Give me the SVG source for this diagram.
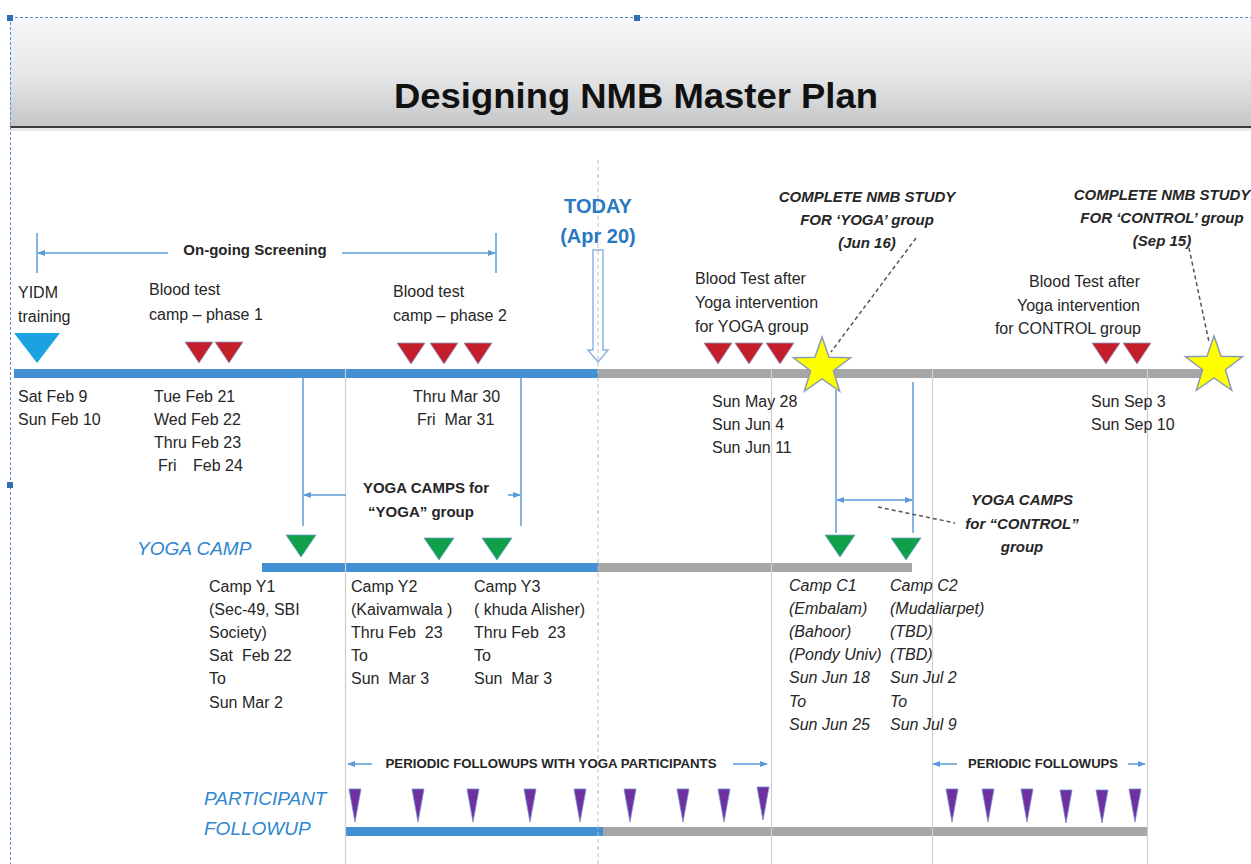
<svg xmlns="http://www.w3.org/2000/svg" width="1251" height="864" viewBox="0 0 1251 864">
<style>
text{font-family:"Liberation Sans",Arial,sans-serif;fill:#262626;white-space:pre}
.t{font-size:16px}
.ti{font-size:16px;font-style:italic}
.b{font-size:15px;font-weight:bold}
.bi{font-size:15px;font-weight:bold;font-style:italic}
.sm{font-size:12px;font-weight:bold}
.lbl{font-size:19px;font-style:italic;fill:#2f86cf}
.today{font-size:20px;font-weight:bold;fill:#2a78c2}
.title{font-size:35px;font-weight:bold;fill:#111}
.conn{stroke:#5b9bd5;stroke-width:1.5;fill:none}
.dash{stroke:#555;stroke-width:1.5;stroke-dasharray:4 3;fill:none}
.vg{stroke:#cfcfcf;stroke-width:1.2}
.red{fill:#c41e2a;stroke:#8a9cc8;stroke-width:0.8}
.grn{fill:#10a04a;stroke:#6f9fcf;stroke-width:0.8}
.pur{fill:#7030a0;stroke:#6f8fcf;stroke-width:0.8}
.star{fill:#ffff00;stroke:#8c9bb5;stroke-width:1.5}
</style>
<defs>
<linearGradient id="hdr" x1="0" y1="0" x2="0" y2="1">
<stop offset="0" stop-color="#f6f7f8"/>
<stop offset="0.5" stop-color="#e7e8e9"/>
<stop offset="1" stop-color="#c5c6c8"/>
</linearGradient>
<marker id="ah" viewBox="0 0 8 8" refX="7" refY="4" markerWidth="8" markerHeight="8" markerUnits="userSpaceOnUse" orient="auto-start-reverse">
<path d="M0,1 L8,4 L0,7 z" fill="#5b9bd5"/>
</marker>
<polygon id="starp" points="0,-30 7.05,-9.71 28.53,-9.27 11.41,3.71 17.63,24.27 0,12 -17.63,24.27 -11.41,3.71 -28.53,-9.27 -7.05,-9.71"/>
<polygon id="redp" points="-14,0 14,0 0,21"/>
<polygon id="grnp" points="-15,0 15,0 0,22"/>
<polygon id="purp" points="-6,0 6,0 0,33"/>
</defs>

<g id="header">
<rect x="10" y="18" width="1241" height="109" fill="url(#hdr)"/>
<rect x="10" y="127" width="1241" height="4" fill="#e0e0e0" opacity="0.7"/>
<line x1="10" y1="127" x2="1251" y2="127" stroke="#3c3c3c" stroke-width="2"/>
<text x="636" y="108" text-anchor="middle" class="title" textLength="484" lengthAdjust="spacingAndGlyphs">Designing NMB Master Plan</text>
</g>

<g id="frame">
<line x1="10.5" y1="17" x2="10.5" y2="864" stroke="#5b8fd0" stroke-width="1" stroke-dasharray="3 2"/>
<line x1="10" y1="17.5" x2="1251" y2="17.5" stroke="#5b8fd0" stroke-width="1" stroke-dasharray="3 2"/>
<rect x="7" y="15" width="6" height="6" fill="#2e6fb5"/>
<rect x="634" y="15" width="6" height="6" fill="#2e6fb5"/>
<rect x="7" y="482" width="6" height="6" fill="#2e6fb5"/>
</g>

<g id="bars">
<rect x="14" y="369" width="584" height="9" fill="#4390d4"/>
<rect x="598" y="369" width="612" height="9" fill="#a6a6a6"/>
<rect x="262" y="563" width="336" height="9" fill="#4390d4"/>
<rect x="598" y="563" width="314" height="9" fill="#a6a6a6"/>
<rect x="345" y="827" width="258" height="9" fill="#4390d4"/>
<rect x="603" y="827" width="544" height="9" fill="#a6a6a6"/>
</g>

<g id="gridlines">
<line class="vg" x1="345.5" y1="369" x2="345.5" y2="864"/>
<line class="vg" x1="771.5" y1="369" x2="771.5" y2="864"/>
<line class="vg" x1="932.5" y1="369" x2="932.5" y2="864"/>
<line class="vg" x1="1147.5" y1="369" x2="1147.5" y2="864"/>
</g>

<g id="today">
<path d="M593,250 L603,250 L603,350 L608,350 L598,362 L588,350 L593,350 Z" fill="#fff" stroke="#8fb4e3" stroke-width="1.5"/>
<line x1="598" y1="160" x2="598" y2="864" stroke="#bdbdbd" stroke-width="1" stroke-dasharray="4 3"/>
<text x="598" y="213" text-anchor="middle" class="today">TODAY</text>
<text x="598" y="243" text-anchor="middle" class="today">(Apr 20)</text>
</g>

<g id="connectors">
<line class="conn" x1="37" y1="233" x2="37" y2="273"/>
<line class="conn" x1="496" y1="233" x2="496" y2="273"/>
<line class="conn" x1="168" y1="253" x2="38" y2="253" marker-end="url(#ah)"/>
<line class="conn" x1="342" y1="253" x2="495" y2="253" marker-end="url(#ah)"/>
<line class="conn" x1="303" y1="378" x2="303" y2="526"/>
<line class="conn" x1="521" y1="378" x2="521" y2="526"/>
<line class="conn" x1="346" y1="495" x2="304" y2="495" marker-end="url(#ah)"/>
<line class="conn" x1="508" y1="495" x2="520" y2="495" marker-end="url(#ah)"/>
<line class="conn" x1="836" y1="390" x2="836" y2="533"/>
<line class="conn" x1="913" y1="382" x2="913" y2="533"/>
<line class="conn" x1="837" y1="500" x2="912" y2="500" marker-start="url(#ah)" marker-end="url(#ah)"/>
<line class="conn" x1="372" y1="764" x2="348" y2="764" marker-end="url(#ah)"/>
<line class="conn" x1="733" y1="764" x2="767" y2="764" marker-end="url(#ah)"/>
<line class="conn" x1="957" y1="764" x2="933" y2="764" marker-end="url(#ah)"/>
<line class="conn" x1="1128" y1="764" x2="1145" y2="764" marker-end="url(#ah)"/>
<path class="dash" d="M878,507 L955,523"/>
<path class="dash" d="M916,238 L831,352"/>
<path class="dash" d="M1189,248 L1209,342"/>
</g>

<g id="yidm">
<polygon points="14,333 60,333 37,363" fill="#1aa3e0"/>
<text class="t" x="18" y="298">YIDM</text>
<text class="t" x="18" y="322">training</text>
<text class="t" x="18" y="402">Sat Feb 9</text>
<text class="t" x="18" y="425">Sun Feb 10</text>
</g>

<g id="blood1">
<use href="#redp" class="red" x="199" y="342"/>
<use href="#redp" class="red" x="229" y="342"/>
<text class="t" x="149" y="295">Blood test</text>
<text class="t" x="149" y="320">camp – phase 1</text>
<text class="t" x="154" y="402">Tue Feb 21</text>
<text class="t" x="154" y="425">Wed Feb 22</text>
<text class="t" x="154" y="448">Thru Feb 23</text>
<text class="t" y="471"><tspan x="158">Fri</tspan><tspan x="193">Feb 24</tspan></text>
</g>

<g id="screening">
<text class="b" x="255" y="255" text-anchor="middle">On-going Screening</text>
</g>

<g id="blood2">
<use href="#redp" class="red" x="411" y="343"/>
<use href="#redp" class="red" x="444" y="343"/>
<use href="#redp" class="red" x="478" y="343"/>
<text class="t" x="393" y="297">Blood test</text>
<text class="t" x="393" y="321">camp – phase 2</text>
<text class="t" x="413" y="402">Thru Mar 30</text>
<text class="t" x="417" y="425">Fri  Mar 31</text>
</g>

<g id="blood3">
<use href="#redp" class="red" x="718" y="343"/>
<use href="#redp" class="red" x="749" y="343"/>
<use href="#redp" class="red" x="780" y="343"/>
<text class="t" x="695" y="284">Blood Test after</text>
<text class="t" x="695" y="308">Yoga intervention</text>
<text class="t" x="695" y="332">for YOGA group</text>
<text class="t" x="712" y="407">Sun May 28</text>
<text class="t" x="712" y="430">Sun Jun 4</text>
<text class="t" x="712" y="453">Sun Jun 11</text>
</g>

<g id="complete-yoga">
<use href="#starp" class="star" x="822" y="367"/>
<text class="bi" x="867" y="202" text-anchor="middle">COMPLETE NMB STUDY</text>
<text class="bi" x="867" y="225" text-anchor="middle">FOR ‘YOGA’ group</text>
<text class="bi" x="867" y="248" text-anchor="middle">(Jun 16)</text>
</g>

<g id="blood4">
<use href="#redp" class="red" x="1106" y="343"/>
<use href="#redp" class="red" x="1137" y="343"/>
<text class="t" x="1140" y="287" text-anchor="end">Blood Test after</text>
<text class="t" x="1140" y="311" text-anchor="end">Yoga intervention</text>
<text class="t" x="1141" y="334" text-anchor="end">for CONTROL group</text>
<text class="t" x="1091" y="407">Sun Sep 3</text>
<text class="t" x="1091" y="430">Sun Sep 10</text>
</g>

<g id="complete-control">
<use href="#starp" class="star" x="1214" y="366"/>
<text class="bi" x="1162" y="200" text-anchor="middle">COMPLETE NMB STUDY</text>
<text class="bi" x="1162" y="223" text-anchor="middle">FOR ‘CONTROL’ group</text>
<text class="bi" x="1162" y="246" text-anchor="middle">(Sep 15)</text>
</g>

<g id="yoga-camps-label">
<text class="b" x="426" y="493" text-anchor="middle">YOGA CAMPS for</text>
<text class="b" x="421" y="517" text-anchor="middle">“YOGA” group</text>
</g>

<g id="control-camps-label">
<text class="bi" x="1022" y="505" text-anchor="middle">YOGA CAMPS</text>
<text class="bi" x="1022" y="529" text-anchor="middle">for “CONTROL”</text>
<text class="bi" x="1022" y="552" text-anchor="middle">group</text>
</g>

<g id="yoga-camp-row">
<text class="lbl" x="137" y="555">YOGA CAMP</text>
</g>

<g id="camp-y1">
<use href="#grnp" class="grn" x="301" y="535"/>
<text class="t" x="209" y="592">Camp Y1</text>
<text class="t" x="209" y="615">(Sec-49, SBI</text>
<text class="t" x="209" y="638">Society)</text>
<text class="t" x="209" y="661">Sat  Feb 22</text>
<text class="t" x="209" y="684">To</text>
<text class="t" x="209" y="708">Sun Mar 2</text>
</g>

<g id="camp-y2">
<use href="#grnp" class="grn" x="439" y="538"/>
<text class="t" x="351" y="592">Camp Y2</text>
<text class="t" x="351" y="615">(Kaivamwala )</text>
<text class="t" x="351" y="638">Thru Feb  23</text>
<text class="t" x="351" y="661">To</text>
<text class="t" x="351" y="684">Sun  Mar 3</text>
</g>

<g id="camp-y3">
<use href="#grnp" class="grn" x="497" y="538"/>
<text class="t" x="474" y="592">Camp Y3</text>
<text class="t" x="474" y="615">( khuda Alisher)</text>
<text class="t" x="474" y="638">Thru Feb  23</text>
<text class="t" x="474" y="661">To</text>
<text class="t" x="474" y="684">Sun  Mar 3</text>
</g>

<g id="camp-c1">
<use href="#grnp" class="grn" x="840" y="535"/>
<text class="ti" x="789" y="591">Camp C1</text>
<text class="ti" x="789" y="614">(Embalam)</text>
<text class="ti" x="789" y="637">(Bahoor)</text>
<text class="ti" x="789" y="660">(Pondy Univ)</text>
<text class="ti" x="789" y="683">Sun Jun 18</text>
<text class="ti" x="789" y="707">To</text>
<text class="ti" x="789" y="730">Sun Jun 25</text>
</g>

<g id="camp-c2">
<use href="#grnp" class="grn" x="906" y="538"/>
<text class="ti" x="890" y="591">Camp C2</text>
<text class="ti" x="890" y="614">(Mudaliarpet)</text>
<text class="ti" x="890" y="637">(TBD)</text>
<text class="ti" x="890" y="660">(TBD)</text>
<text class="ti" x="890" y="683">Sun Jul 2</text>
<text class="ti" x="890" y="707">To</text>
<text class="ti" x="890" y="730">Sun Jul 9</text>
</g>

<g id="followup-row">
<text class="lbl" x="204" y="805">PARTICIPANT</text>
<text class="lbl" x="204" y="835">FOLLOWUP</text>
<text class="sm" x="551" y="768" text-anchor="middle" textLength="331" lengthAdjust="spacingAndGlyphs">PERIODIC FOLLOWUPS WITH YOGA PARTICIPANTS</text>
<text class="sm" x="1043" y="768" text-anchor="middle" textLength="150" lengthAdjust="spacingAndGlyphs">PERIODIC FOLLOWUPS</text>
</g>

<g id="followups">
<use href="#purp" class="pur" x="355" y="789"/>
<use href="#purp" class="pur" x="418" y="789"/>
<use href="#purp" class="pur" x="473" y="789"/>
<use href="#purp" class="pur" x="530" y="789"/>
<use href="#purp" class="pur" x="580" y="789"/>
<use href="#purp" class="pur" x="630" y="789"/>
<use href="#purp" class="pur" x="683" y="789"/>
<use href="#purp" class="pur" x="724" y="789"/>
<use href="#purp" class="pur" x="763" y="787"/>
<use href="#purp" class="pur" x="952" y="789"/>
<use href="#purp" class="pur" x="988" y="789"/>
<use href="#purp" class="pur" x="1027" y="789"/>
<use href="#purp" class="pur" x="1066" y="790"/>
<use href="#purp" class="pur" x="1102" y="790"/>
<use href="#purp" class="pur" x="1135" y="789"/>
</g>
</svg>
